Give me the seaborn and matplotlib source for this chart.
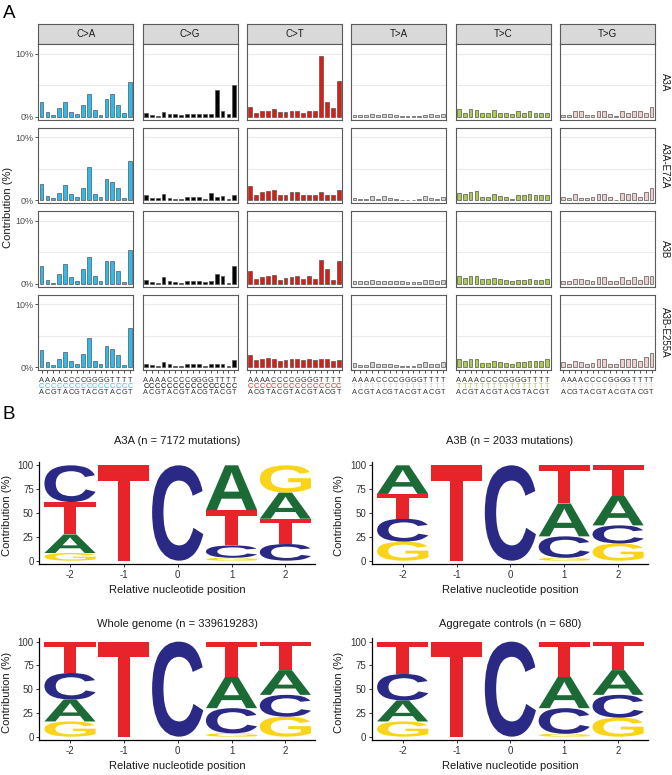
import numpy as np
import pandas as pd
import matplotlib
matplotlib.use("Agg")
import matplotlib.pyplot as plt
import seaborn as sns
from matplotlib.textpath import TextPath
from matplotlib.patches import PathPatch
from matplotlib.font_manager import FontProperties
from matplotlib.transforms import Affine2D, blended_transform_factory

# ---------------- data ----------------
mutation_types = ["C>A", "C>G", "C>T", "T>A", "T>C", "T>G"]
type_colors = ["#2EBAED", "#000000", "#DE1C14", "#D4D2D2", "#ADCC54", "#F0D0CE"]
samples = ["A3A", "A3A-E72A", "A3B", "A3B-E255A"]
five_prime = list("AAAACCCCGGGGTTTT")
three_prime = list("ACGTACGTACGTACGT")

# relative contribution (%) ; rows = mutation types, 16 trinucleotide contexts each
a3a = [
    [2.4, 0.8, 0.3, 1.4, 2.3, 0.8, 0.5, 1.9, 3.6, 1.1, 0.3, 2.9, 3.6, 1.9, 0.6, 5.5],
    [0.6, 0.3, 0.2, 0.8, 0.5, 0.5, 0.3, 0.4, 0.4, 0.4, 0.4, 0.5, 4.3, 0.9, 0.4, 5.1],
    [1.6, 0.7, 0.9, 1.0, 1.3, 0.8, 0.8, 1.0, 1.0, 0.7, 0.9, 0.9, 9.7, 2.4, 1.4, 5.7],
    [0.3, 0.3, 0.3, 0.5, 0.3, 0.5, 0.4, 0.3, 0.2, 0.1, 0.1, 0.1, 0.3, 0.5, 0.3, 0.5],
    [1.2, 0.7, 1.2, 1.1, 0.6, 0.6, 1.1, 0.6, 0.6, 0.5, 0.9, 0.6, 0.9, 0.6, 0.6, 0.7],
    [0.3, 0.3, 0.9, 0.9, 0.3, 0.3, 1.0, 1.0, 0.4, 0.1, 0.9, 0.6, 0.9, 1.0, 0.7, 1.5],
]
a3a_e72a = [
    [2.6, 0.7, 0.4, 1.2, 2.4, 1.0, 0.5, 2.0, 5.3, 1.1, 0.5, 3.4, 2.9, 1.9, 0.4, 6.3],
    [0.9, 0.4, 0.4, 1.0, 0.4, 0.2, 0.2, 0.5, 0.5, 0.5, 0.3, 1.2, 0.6, 0.7, 0.3, 0.9],
    [2.3, 0.8, 1.3, 1.5, 1.7, 0.9, 0.9, 1.4, 1.3, 0.9, 0.9, 0.9, 1.3, 0.9, 0.8, 1.6],
    [0.4, 0.3, 0.3, 0.7, 0.3, 0.7, 0.4, 0.2, 0.1, 0.1, 0.1, 0.3, 0.7, 0.4, 0.3, 0.6],
    [1.2, 1.0, 1.3, 1.5, 0.5, 0.6, 1.1, 0.7, 0.6, 0.3, 0.8, 0.9, 1.0, 0.9, 0.9, 0.9],
    [0.5, 0.4, 1.0, 0.4, 0.4, 0.6, 1.1, 1.0, 0.5, 0.1, 1.2, 1.0, 1.2, 0.6, 1.4, 1.9],
]
a3b = [
    [2.9, 0.7, 0.2, 1.5, 3.1, 1.1, 0.5, 2.3, 4.2, 1.3, 0.5, 3.7, 3.7, 2.0, 0.3, 5.4],
    [0.6, 0.3, 0.2, 1.1, 0.5, 0.3, 0.2, 0.4, 0.4, 0.4, 0.3, 0.5, 1.6, 1.2, 0.2, 2.9],
    [2.0, 0.8, 1.1, 1.3, 1.4, 0.7, 1.0, 1.1, 1.2, 0.8, 1.2, 0.8, 3.8, 2.3, 0.7, 3.7],
    [0.4, 0.4, 0.4, 0.6, 0.4, 0.4, 0.4, 0.4, 0.4, 0.3, 0.3, 0.3, 0.6, 0.6, 0.4, 0.6],
    [1.2, 1.0, 1.2, 1.2, 0.8, 0.8, 0.9, 0.8, 0.7, 0.5, 0.7, 0.7, 0.8, 0.7, 0.7, 0.8],
    [0.5, 0.5, 0.8, 0.8, 0.6, 0.5, 1.1, 1.1, 0.5, 0.5, 1.1, 0.6, 1.1, 0.6, 1.2, 1.3],
]
a3b_e255a = [
    [2.7, 0.8, 0.4, 1.4, 2.4, 1.0, 0.5, 2.1, 4.7, 1.1, 0.5, 3.4, 3.0, 2.0, 0.4, 6.2],
    [0.6, 0.4, 0.3, 0.8, 0.5, 0.3, 0.3, 0.5, 0.5, 0.5, 0.3, 0.6, 0.5, 0.6, 0.3, 1.2],
    [1.9, 1.2, 1.3, 1.5, 1.3, 1.1, 1.2, 1.3, 1.3, 1.2, 1.3, 1.2, 1.3, 1.3, 1.1, 1.2],
    [0.7, 0.4, 0.4, 0.8, 0.5, 0.5, 0.6, 0.4, 0.3, 0.2, 0.3, 0.5, 0.8, 0.5, 0.6, 0.9],
    [1.3, 1.1, 1.4, 1.3, 0.7, 0.7, 1.0, 0.8, 0.7, 0.5, 0.9, 0.9, 1.1, 1.0, 1.0, 1.3],
    [0.8, 0.6, 1.1, 0.9, 0.6, 0.7, 1.3, 1.4, 0.6, 0.5, 1.4, 1.3, 1.4, 1.0, 1.6, 2.3],
]
sample_values = [a3a, a3a_e72a, a3b, a3b_e255a]

# sequence logos: contribution (%) at positions -2..2
positions = [-2, -1, 0, 1, 2]
bases = ["A", "C", "G", "T"]
base_colors = {"A": "#1C6B37", "C": "#2A2A86", "G": "#FAD419", "T": "#E8232A"}
logo_a3a = {"A": [19.5, 0, 0, 47, 27.5], "C": [38.5, 0, 100, 13, 17.5],
            "G": [8, 0, 0, 3, 28.5], "T": [34, 100, 0, 37, 26.5]}
logo_a3b = {"A": [30, 0, 0, 34.5, 31], "C": [24, 0, 100, 22.5, 19],
            "G": [20, 0, 0, 3, 18], "T": [26, 100, 0, 40, 32]}
logo_genome = {"A": [23, 0, 0, 33, 26], "C": [28, 0, 100, 26.5, 23],
               "G": [16, 0, 0, 3.5, 21], "T": [33, 100, 0, 37, 30]}
logo_controls = {"A": [22, 0, 0, 33, 26], "C": [28, 0, 100, 27, 24],
                 "G": [16, 0, 0, 3, 20], "T": [34, 100, 0, 37, 30]}
logo_titles = ["A3A (n = 7172 mutations)", "A3B (n = 2033 mutations)",
               "Whole genome (n = 339619283)", "Aggregate controls (n = 680)"]
logo_data = [logo_a3a, logo_a3b, logo_genome, logo_controls]

# ---------------- figure ----------------
sns.set_theme(style="white")
plt.rcParams["font.family"] = ["Liberation Sans", "DejaVu Sans"]

W, H = 672, 775
fig = plt.figure(figsize=(W / 100, H / 100), dpi=100)


def ax_px(l, t, r, b):
    return fig.add_axes([l / W, 1 - b / H, (r - l) / W, (b - t) / H])


# ---- panel A ----
fig.text(3 / W, 1 - 18 / H, "A", fontsize=13.5, va="baseline", ha="left", color="black")
col_left0, col_pitch, col_w = 38.3, 104.3, 95.0
row_top0, row_pitch, row_h = 44.3, 83.5, 75.5
contexts = [a + b for a, b in zip(five_prime, three_prime)]

for j, mt in enumerate(mutation_types):
    l = col_left0 + j * col_pitch
    sax = ax_px(l, 24, l + col_w, row_top0)
    sax.set_facecolor("#D9D9D9")
    sax.set_xticks([]); sax.set_yticks([])
    for sp in sax.spines.values():
        sp.set_color("#5a5a5a"); sp.set_linewidth(0.8)
    sax.text(0.5, 0.5, mt, ha="center", va="center", fontsize=7, color="#1A1A1A",
             transform=sax.transAxes)

for i, s in enumerate(samples):
    t = row_top0 + i * row_pitch
    for j, mt in enumerate(mutation_types):
        l = col_left0 + j * col_pitch
        ax = ax_px(l, t, l + col_w, t + row_h)
        df = pd.DataFrame({"ctx": contexts, "val": sample_values[i][j]})
        sns.barplot(data=df, x="ctx", y="val", color=type_colors[j], saturation=1,
                    edgecolor="#555555", linewidth=0.5, width=0.65, ax=ax, zorder=3)
        ax.set_xlim(-0.55, 15.55)
        ax.set_ylim(-0.45, 11.5)
        ax.set_xlabel(""); ax.set_ylabel("")
        for yv in (5, 10):
            ax.axhline(yv, color="#EBEBEB", lw=0.8, zorder=0)
        for sp in ax.spines.values():
            sp.set_color("#5a5a5a"); sp.set_linewidth(0.8); sp.set_visible(True)
        ax.set_yticks([0, 10])
        if j == 0:
            ax.set_yticklabels(["0%", "10%"])
            ax.tick_params(axis="y", length=2.2, width=0.6, color="#333333",
                           labelsize=6.5, labelcolor="#4D4D4D", pad=1, left=True)
        else:
            ax.set_yticklabels([])
            ax.tick_params(axis="y", length=0)
        ax.set_xticks(range(16))
        ax.set_xticklabels([])
        if i == len(samples) - 1:
            ax.tick_params(axis="x", length=2.2, width=0.6, color="#333333", bottom=True)
            tr = blended_transform_factory(ax.transData, ax.transAxes)
            for k in range(16):
                ax.text(k, -(380.3 - (t + row_h)) / row_h, five_prime[k], transform=tr,
                        ha="center", va="center", fontsize=5.3, color="#333333")
                ax.text(k, -(386.6 - (t + row_h)) / row_h, mt[0], transform=tr,
                        ha="center", va="center", fontsize=5.3, color=type_colors[j])
                ax.text(k, -(393.0 - (t + row_h)) / row_h, three_prime[k], transform=tr,
                        ha="center", va="center", fontsize=5.3, color="#333333")
        else:
            ax.tick_params(axis="x", length=0)
    fig.text(665 / W, 1 - (t + row_h / 2) / H, s, rotation=270, ha="center", va="center",
             fontsize=7, color="#1A1A1A")

fig.text(8 / W, 1 - 207 / H, "Contribution (%)", rotation=90, ha="center", va="center",
         fontsize=8, color="#1A1A1A")

# ---- panel B ----
fig.text(3 / W, 1 - 419 / H, "B", fontsize=13.5, va="baseline", ha="left", color="black")
fp = FontProperties(family="Liberation Sans", weight="bold")


def draw_letter(ax, ch, x, y0, h, color, w=0.95):
    tp = TextPath((0, 0), ch, size=1, prop=fp)
    ext = tp.get_extents()
    tr = (Affine2D().translate(-ext.x0, -ext.y0)
          .scale(w / ext.width, h / ext.height).translate(x - w / 2, y0))
    ax.add_patch(PathPatch(tr.transform_path(tp), facecolor=color, edgecolor="none",
                           zorder=3))


logo_boxes = [(39.3, 461.7, 315, 564, 440.5), (372, 461.7, 647.7, 564, 440.5),
              (39.3, 638, 315, 740, 624), (372, 638, 647.7, 740, 624)]
for (l, t, r, b, ty), title, data in zip(logo_boxes, logo_titles, logo_data):
    ax = ax_px(l, t, r, b)
    ax.set_xlim(-2.57, 2.55)
    ax.set_ylim(-3.5, 103.8)
    for k, p in enumerate(positions):
        vals = sorted([(data[bb][k], bb) for bb in bases], key=lambda v: v[0])
        y0 = 0.0
        for v, bb in vals:
            if v > 0:
                draw_letter(ax, bb, p, y0, v, base_colors[bb])
                y0 += v
    sns.despine(ax=ax)
    for side in ("left", "bottom"):
        ax.spines[side].set_color("black"); ax.spines[side].set_linewidth(0.9)
    ax.set_xticks(positions)
    ax.set_xticklabels([str(p) for p in positions])
    ax.set_yticks([0, 25, 50, 75, 100])
    ax.tick_params(axis="both", length=2.5, width=0.7, color="#333333", labelsize=7,
                   labelcolor="#333333", pad=1.5, left=True, bottom=True)
    ax.set_xlabel("Relative nucleotide position", fontsize=8, color="#1A1A1A")
    ax.xaxis.label.set_va("center")
    ax.xaxis.set_label_coords(0.5, -26.3 / (b - t))
    ax.set_ylabel("Contribution (%)", fontsize=8, color="#1A1A1A")
    ax.yaxis.label.set_va("center")
    ax.yaxis.set_label_coords((l - 32.6 - l) / (r - l) if False else -32.6 / (r - l), 0.47)
    ax.text(0.5, 1 + (t - ty) / (b - t), title, transform=ax.transAxes, ha="center",
            va="center", fontsize=8, color="#1A1A1A")

fig.savefig("out.png", dpi=100)
